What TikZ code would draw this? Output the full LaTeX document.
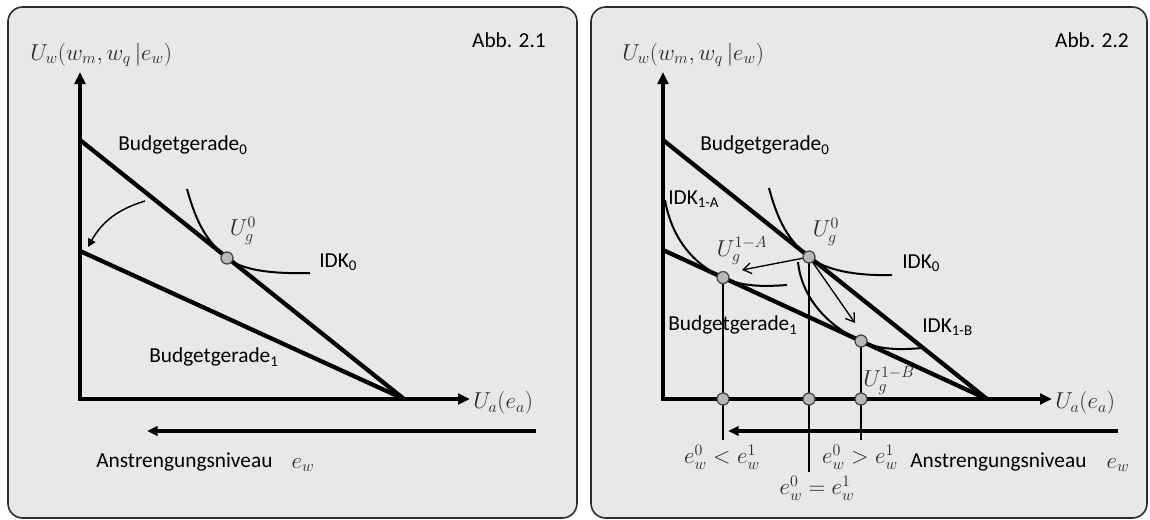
\documentclass[tikz,border=0pt]{standalone}
\usepackage{fontspec}
\setmainfont{Carlito}
\usetikzlibrary{arrows.meta}
\definecolor{panelgray}{RGB}{232,232,232}
\definecolor{framegray}{RGB}{45,45,45}
\definecolor{mathtxt}{RGB}{50,38,28}
\tikzset{
  axes/.style={line width=3pt,{Triangle[length=9pt,width=8pt]}-{Triangle[length=9pt,width=8pt]}},
  budget/.style={line width=3.2pt},
  idk/.style={line width=1.5pt},
  guide/.style={line width=1pt},
  swing/.style={line width=1.1pt,-{Triangle[length=6pt,width=6pt]}},
  shiftarrow/.style={line width=1pt,-{Straight Barb[length=6pt,width=8pt]}},
  effort/.style={line width=2.5pt,-{Triangle[length=8pt,width=7pt]}},
  ptdot/.style={circle,draw=black!75,fill=black!28,line width=0.9pt,inner sep=0pt,minimum size=9pt},
  panel/.style={draw=framegray,fill=panelgray,line width=1.2pt,rounded corners=11pt},
  txt/.style={font=\fontsize{16}{19}\selectfont,inner sep=0pt},
  mth/.style={text=mathtxt,font=\fontsize{16.5}{19}\selectfont,inner sep=0pt}
}

\begin{document}
\begin{tikzpicture}[x=0.75pt,y=-0.75pt]
  \useasboundingbox (0,0) rectangle (1150,519);
  % frames
  \draw[panel] (8,7) rectangle (577,518);
  \draw[panel] (591,7) rectangle (1147,518);

  % ---------- Abb. 2.1 ----------
  \coordinate (oL) at (80,399);
  \coordinate (yL) at (80,72);
  \coordinate (xL) at (470,399);
  \coordinate (b0L) at (80,140);
  \coordinate (b1L) at (80,251);
  \coordinate (eL) at (404,399);
  \draw[budget] (b0L) -- (eL);
  \draw[budget] (b1L) -- (eL);
  \draw[axes] (yL) -- (oL) -- (xL);
  % indifference curve and rotation of the budget line
  \draw[idk] (187,189) .. controls (197,225) and (207,241) .. (227,258)
    .. controls (242,270) and (270,274) .. (310,273);
  \coordinate (rotA) at (145,201);
  \coordinate (rotB) at (88,247);
  \draw[swing] (rotA) to[bend right=22] (rotB);
  \node[ptdot] (UgL) at (227,258) {};
  % effort arrow
  \coordinate (effA) at (536,431);
  \coordinate (effB) at (147,431);
  \draw[effort] (effA) -- (effB);
  % labels
  \node[mth, anchor=west] (ylabL) at (30,55) {$U_w(w_m,w_q\,|e_w)$};
  \node[mth, anchor=west] (xlabL) at (473,403) {$U_a(e_a)$};
  \node[txt, anchor=west] (bg0L) at (118,145) {Budgetgerade\textsubscript{0}};
  \node[txt, anchor=west] (bg1L) at (149,357) {Budgetgerade\textsubscript{1}};
  \node[txt, anchor=west] (idk0L) at (319,262) {IDK\textsubscript{0}};
  \node[mth] (ugL) at (243,231) {$U_g^0$};
  \node[txt, anchor=west] (anstrL) at (96,462) {Anstrengungsniveau};
  \node[mth] (ewL) at (303,465) {$e_w$};
  \node[txt, anchor=east] (abbL) at (546,40) {Abb. 2.1};

  % ---------- Abb. 2.2 ----------
  \coordinate (oR) at (663,399);
  \coordinate (yR) at (663,72);
  \coordinate (xR) at (1052,399);
  \coordinate (b0R) at (663,140);
  \coordinate (b1R) at (663,250);
  \coordinate (eR) at (987,399);
  \draw[budget] (b0R) -- (eR);
  \draw[budget] (b1R) -- (eR);
  % drop lines to the axis
  \coordinate (dA) at (723,440);
  \coordinate (d0) at (809,472);
  \coordinate (dB) at (861,440);
  \draw[guide] (723,277.6) -- (dA);
  \draw[guide] (809,257) -- (d0);
  \draw[guide] (861,341) -- (dB);
  \draw[axes] (yR) -- (oR) -- (xR);
  % indifference curves
  \draw[idk] (769,188) .. controls (778,222) and (789,241) .. (809,257)
    .. controls (825,270) and (855,276) .. (892,275);
  \draw[idk] (665,200) .. controls (672,240) and (695,265) .. (723,277.6)
    .. controls (741,286) and (760,287) .. (787,285);
  \draw[idk] (798,262) .. controls (802,300) and (830,327) .. (861,341)
    .. controls (880,350) and (900,350) .. (922,348);
  % points
  \node[ptdot] (UgR) at (809,257) {};
  \node[ptdot] (UgA) at (723,277.6) {};
  \node[ptdot] (UgB) at (861,341) {};
  \node[ptdot] (axA) at (723,399) {};
  \node[ptdot] (ax0) at (809,399) {};
  \node[ptdot] (axB) at (861,399) {};
  % moves from U_g^0
  \coordinate (tA) at (742,270);
  \coordinate (tB) at (855,323);
  \draw[shiftarrow] (UgR) -- (tA);
  \draw[shiftarrow] (UgR) -- (tB);
  % effort arrow
  \coordinate (effC) at (1118,431);
  \coordinate (effD) at (728,431);
  \draw[effort] (effC) -- (effD);
  % labels
  \node[mth, anchor=west] (ylabR) at (622,55) {$U_w(w_m,w_q\,|e_w)$};
  \node[mth, anchor=west] (xlabR) at (1055,403) {$U_a(e_a)$};
  \node[txt, anchor=west] (bg0R) at (700,145) {Budgetgerade\textsubscript{0}};
  \node[txt, anchor=west] (bg1R) at (668,325) {Budgetgerade\textsubscript{1}};
  \node[txt, anchor=west] (idk0R) at (902,263) {IDK\textsubscript{0}};
  \node[txt, anchor=west] (idkA) at (668,199) {IDK\textsubscript{1-A}};
  \node[txt, anchor=west] (idkB) at (922,327) {IDK\textsubscript{1-B}};
  \node[mth] (ugR) at (826,232) {$U_g^0$};
  \node[mth] (ugA) at (742,251) {$U_g^{1-A}$};
  \node[mth] (ugB) at (889,381) {$U_g^{1-B}$};
  \node[mth] (lessR) at (722,457) {$e_w^0 < e_w^1$};
  \node[mth] (eqR) at (817,488) {$e_w^0 = e_w^1$};
  \node[mth] (moreR) at (860,457) {$e_w^0 > e_w^1$};
  \node[txt, anchor=west] (anstrR) at (910,462) {Anstrengungsniveau};
  \node[mth] (ewR) at (1118,465) {$e_w$};
  \node[txt, anchor=east] (abbR) at (1129,40) {Abb. 2.2};
\end{tikzpicture}
\end{document}
